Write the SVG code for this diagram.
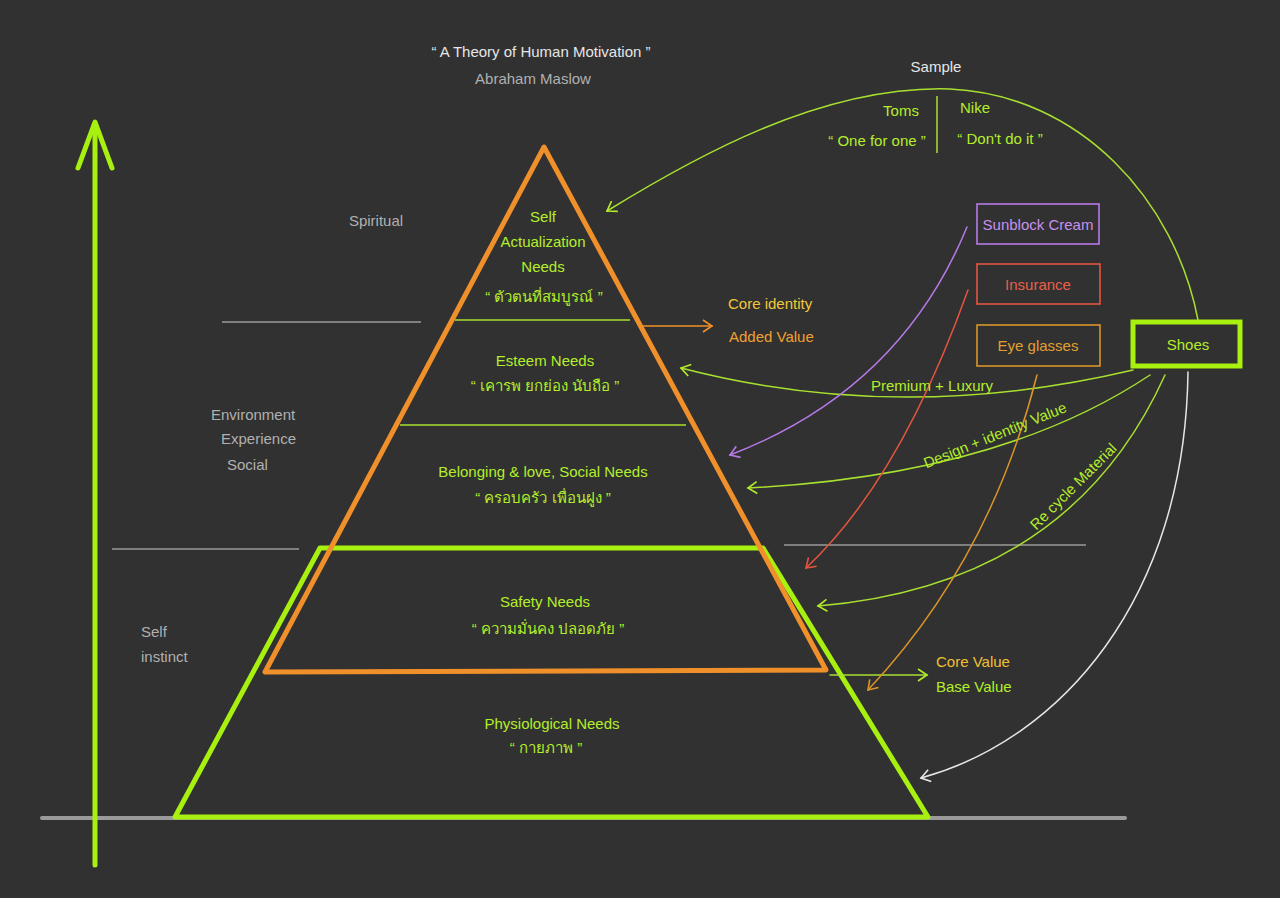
<svg xmlns="http://www.w3.org/2000/svg" width="1280" height="898" viewBox="0 0 1280 898">
<defs>
<style>
text{font-family:"Liberation Sans","Noto Sans","DejaVu Sans",sans-serif;font-size:15px;text-anchor:middle}
.g{fill:#b4ee2a}
.w{fill:#e6e6e6}
.gr{fill:#b0b0b0}
.line{fill:none;stroke-linecap:round;stroke-linejoin:round}
</style>
<marker id="ag" markerWidth="14" markerHeight="14" refX="10" refY="7" orient="auto" markerUnits="userSpaceOnUse"><path d="M1,1 L10,7 L1,13" fill="none" stroke="#b4ee2a" stroke-width="1.6"/></marker>
<marker id="aw" markerWidth="14" markerHeight="14" refX="10" refY="7" orient="auto" markerUnits="userSpaceOnUse"><path d="M1,1 L10,7 L1,13" fill="none" stroke="#e6e6e6" stroke-width="1.6"/></marker>
<marker id="ap" markerWidth="14" markerHeight="14" refX="10" refY="7" orient="auto" markerUnits="userSpaceOnUse"><path d="M1,1 L10,7 L1,13" fill="none" stroke="#b77ae8" stroke-width="1.6"/></marker>
<marker id="ar" markerWidth="14" markerHeight="14" refX="10" refY="7" orient="auto" markerUnits="userSpaceOnUse"><path d="M1,1 L10,7 L1,13" fill="none" stroke="#e4553f" stroke-width="1.6"/></marker>
<marker id="ao" markerWidth="14" markerHeight="14" refX="10" refY="7" orient="auto" markerUnits="userSpaceOnUse"><path d="M1,1 L10,7 L1,13" fill="none" stroke="#d9952a" stroke-width="1.6"/></marker>
<marker id="ao2" markerWidth="14" markerHeight="14" refX="10" refY="7" orient="auto" markerUnits="userSpaceOnUse"><path d="M1,1 L10,7 L1,13" fill="none" stroke="#f0902a" stroke-width="1.6"/></marker>
</defs>
<rect width="1280" height="898" fill="#313131"/>

<g id="axes">
<line x1="42" y1="818" x2="1125" y2="818" stroke="#9a9a9a" stroke-width="4" stroke-linecap="round"/>
<line x1="95" y1="865" x2="95" y2="124" stroke="#a8f010" stroke-width="5" stroke-linecap="round"/>
<path d="M78,168 L95,122 L112,168" fill="none" stroke="#a8f010" stroke-width="5" stroke-linecap="round" stroke-linejoin="round"/>
</g>

<g id="dividers" stroke="#9a9a9a" stroke-width="1.3">
<line x1="222" y1="322" x2="421" y2="322"/>
<line x1="112" y1="549" x2="299" y2="549"/>
<line x1="784" y1="545" x2="1086" y2="545"/>
</g>

<g id="pyramid-green">
<polygon points="175,817 320,548 763,548 928,817" fill="none" stroke="#a8f010" stroke-width="5" stroke-linejoin="round"/>
</g>
<g id="pyramid-orange">
<polygon points="544,147 265,672 826,670" fill="none" stroke="#f0902a" stroke-width="5" stroke-linejoin="round"/>
<line x1="455" y1="320" x2="630" y2="320" stroke="#a8e030" stroke-width="1.5"/>
<line x1="400" y1="425" x2="686" y2="425" stroke="#a8e030" stroke-width="1.5"/>
</g>

<g id="title">
<text class="w" x="541" y="57" font-size="16">“ A Theory of Human Motivation ”</text>
<text class="gr" x="533" y="84" font-size="14">Abraham  Maslow</text>
</g>

<g id="side-labels">
<text class="gr" x="376" y="226">Spiritual</text>
<text class="gr" x="211" y="420" style="text-anchor:start">Environment</text>
<text class="gr" x="221" y="444" style="text-anchor:start">Experience</text>
<text class="gr" x="227" y="470" style="text-anchor:start">Social</text>
<text class="gr" x="141" y="637" style="text-anchor:start">Self</text>
<text class="gr" x="141" y="662" style="text-anchor:start">instinct</text>
</g>

<g id="level-self-actualization">
<text class="g" x="543" y="222" font-size="14">Self</text>
<text class="g" x="543" y="247" font-size="14">Actualization</text>
<text class="g" x="543" y="272" font-size="14">Needs</text>
<text class="g" x="544" y="302" font-size="14">“ ตัวตนที่สมบูรณ์ ”</text>
</g>
<g id="level-esteem">
<text class="g" x="545" y="366">Esteem  Needs</text>
<text class="g" x="545" y="391" font-size="14">“ เคารพ ยกย่อง นับถือ ”</text>
</g>
<g id="level-belonging">
<text class="g" x="543" y="477">Belonging &amp; love, Social Needs</text>
<text class="g" x="543" y="503" font-size="14">“ ครอบครัว  เพื่อนฝูง ”</text>
</g>
<g id="level-safety">
<text class="g" x="545" y="607">Safety  Needs</text>
<text class="g" x="548" y="634" font-size="14">“ ความมั่นคง ปลอดภัย ”</text>
</g>
<g id="level-physiological">
<text class="g" x="552" y="729">Physiological  Needs</text>
<text class="g" x="546" y="753" font-size="14">“ กายภาพ ”</text>
</g>

<g id="sample">
<text class="w" x="936" y="72" font-size="17">Sample</text>
<line x1="937" y1="96" x2="937" y2="153" stroke="#a8e030" stroke-width="1.5"/>
<text class="g" x="901" y="116">Toms</text>
<text class="g" x="877" y="146" font-size="14">“ One for one ”</text>
<text class="g" x="975" y="113">Nike</text>
<text class="g" x="1000" y="144" font-size="14">“ Don't do it ”</text>
</g>

<g id="value-labels">
<text x="728" y="309" style="text-anchor:start;fill:#f0c83a" font-size="16">Core identity</text>
<text x="729" y="342" style="text-anchor:start;fill:#f0a030" font-size="16">Added Value</text>
<text x="936" y="667" style="text-anchor:start;fill:#f0c030" font-size="16">Core Value</text>
<text x="936" y="692" style="text-anchor:start;fill:#b4ee2a" font-size="16">Base Value</text>
</g>

<g id="box-sunblock">
<rect x="977" y="204" width="122" height="40" fill="none" stroke="#b77ae8" stroke-width="1.6"/>
<text x="1038" y="230" style="fill:#c890f0">Sunblock Cream</text>
</g>
<g id="box-insurance">
<rect x="977" y="264" width="123" height="40" fill="none" stroke="#e4553f" stroke-width="1.6"/>
<text x="1038" y="290" style="fill:#e8604a">Insurance</text>
</g>
<g id="box-eyeglasses">
<rect x="977" y="325" width="123" height="41" fill="none" stroke="#d9952a" stroke-width="1.6"/>
<text x="1038" y="351" style="fill:#e0a030">Eye glasses</text>
</g>
<g id="box-shoes">
<rect x="1133" y="322" width="107" height="44" fill="none" stroke="#a8f010" stroke-width="5"/>
<text class="g" x="1188" y="350" font-size="16">Shoes</text>
</g>

<g id="connectors" class="line" stroke-width="1.5">
<path d="M643,326 L712,326" stroke="#f0902a" marker-end="url(#ao2)"/>
<path d="M830,675 L927,675" stroke="#a8e030" marker-end="url(#ag)"/>
<path d="M1198,320 C1175,200 1080,95 950,89 C820,85 690,160 607,211" stroke="#a8e030" marker-end="url(#ag)"/>
<path d="M1133,370 Q900,425 681,368" stroke="#a8e030" marker-end="url(#ag)"/>
<path d="M1150,375 Q1000,475 748,488" stroke="#a8e030" marker-end="url(#ag)"/>
<path d="M1165,375 Q1070,585 818,606" stroke="#a8e030" marker-end="url(#ag)"/>
<path d="M1188,372 C1185,600 1060,740 921,778" stroke="#e6e6e6" marker-end="url(#aw)"/>
<path d="M967,227 Q900,390 730,455" stroke="#b77ae8" marker-end="url(#ap)"/>
<path d="M968,290 Q900,480 806,568" stroke="#e4553f" marker-end="url(#ar)"/>
<path d="M1037,375 Q990,560 868,690" stroke="#d9952a" marker-end="url(#ao)"/>
</g>

<g id="connector-labels">
<text class="g" x="932" y="391" font-size="13">Premium + Luxury</text>
<text class="g" x="0" y="0" font-size="13" transform="translate(997,440) rotate(-22)">Design + identity Value</text>
<text class="g" x="0" y="0" font-size="13" transform="translate(1077,490) rotate(-45)">Re cycle Material</text>
</g>
</svg>
